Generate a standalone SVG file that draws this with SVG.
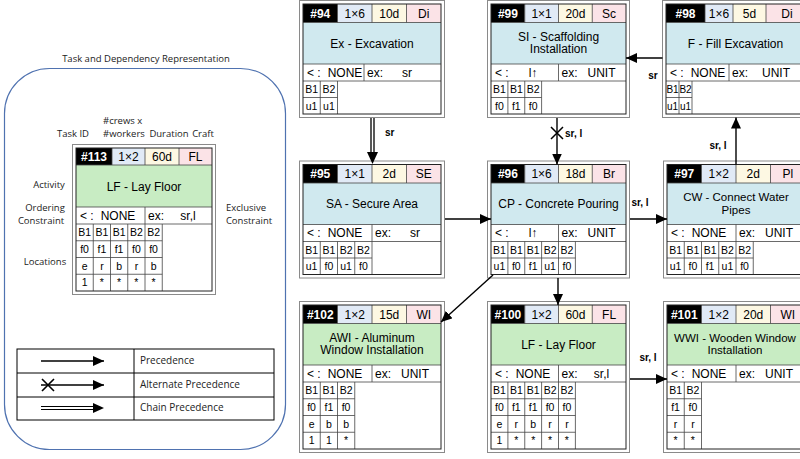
<svg xmlns="http://www.w3.org/2000/svg" width="800" height="459" viewBox="0 0 800 459">
<defs>
<style>
.ob{fill:none;stroke:#8a8a8a;stroke-width:1}
.bg{fill:#fff}
.bx{fill:none;stroke:#222;stroke-width:1}
.ln{fill:none;stroke:#444;stroke-width:0.8}
.k{fill:#000}
.cr{fill:#e1eaf6}
.du{fill:#fdf8e3}
.ca{fill:#fbe3e7}
.cy{fill:#d0e9ef}
.gr{fill:#c8ecc3}
text{font-family:"Liberation Sans",Arial,Helvetica,sans-serif;fill:#000}
.h{font-size:12px;text-anchor:middle}
.hi{font-size:12px;font-weight:bold;fill:#fff;text-anchor:middle}
.m{font-size:12px;text-anchor:middle}
.ms{font-size:11.5px;text-anchor:middle}
.c{font-size:12px}
.cm{font-size:12px;text-anchor:middle}
.l{font-size:10.5px;text-anchor:middle}
.lb{font-family:"Open Sans","Noto Sans",sans-serif;font-size:9.5px;fill:#222}
.lbm{text-anchor:middle}
.cl{font-size:10px;font-weight:bold}
.ar{stroke:#000;stroke-width:1.4;fill:none}
</style>
<marker id="ah" markerUnits="userSpaceOnUse" markerWidth="11" markerHeight="10" refX="11" refY="5" orient="auto" viewBox="0 0 11 10"><path d="M0,0L11,5L0,10z" fill="#000"/></marker>
</defs>
<rect width="800" height="459" fill="#fff"/>

<g id="legend">
<text class="lb lbm" x="146" y="62">Task and Dependency Representation</text>
<rect x="4.5" y="68.5" width="281" height="381" rx="45" ry="45" fill="none" stroke="#4f72b0" stroke-width="1.2"/>
<text class="lb lbm" x="73" y="137">Task ID</text>
<text class="lb" x="103" y="124">#crews x</text>
<text class="lb" x="103" y="137">#workers</text>
<text class="lb lbm" x="169" y="137">Duration</text>
<text class="lb lbm" x="203" y="137">Craft</text>
<text class="lb lbm" x="49" y="188">Activity</text>
<text class="lb lbm" x="45" y="211">Ordering</text>
<text class="lb lbm" x="41" y="224">Constraint</text>
<text class="lb lbm" x="246" y="211">Exclusive</text>
<text class="lb lbm" x="249" y="224">Constraint</text>
<text class="lb lbm" x="45" y="265">Locations</text>
<g id="legend-table">
<rect x="17" y="349" width="257" height="71" fill="none" stroke="#000" stroke-width="1"/>
<path d="M17 373H274M17 397H274M134 349V420" fill="none" stroke="#000" stroke-width="1"/>
<text class="lb" x="140" y="364" style="font-size:10px">Precedence</text>
<text class="lb" x="140" y="387.5" style="font-size:10px">Alternate Precedence</text>
<text class="lb" x="140" y="411" style="font-size:10px">Chain Precedence</text>
<line class="ar" x1="41" y1="361" x2="104" y2="361" marker-end="url(#ah)"/>
<line class="ar" x1="41" y1="385" x2="104" y2="385" marker-end="url(#ah)"/>
<path d="M42 379L54 391M42 391L54 379" stroke="#000" stroke-width="1.6" fill="none"/>
<path d="M41 406.5H94M41 409.5H94" stroke="#000" stroke-width="1.2" fill="none"/>
<polygon points="93,403 104,408 93,413" fill="#000"/>
</g>
</g>

<g id="n113">
<rect class="ob" x="72.5" y="144.5" width="143" height="150"/>
<rect class="bg" x="76" y="148" width="136" height="143"/>
<rect class="k" x="76" y="148" width="36" height="17"/>
<rect class="cr" x="112" y="148" width="33" height="17"/>
<rect class="du" x="145" y="148" width="34" height="17"/>
<rect class="ca" x="179" y="148" width="33" height="17"/>
<rect class="gr" x="76" y="165" width="136" height="42"/>
<path class="ln" d="M76 165H212M76 207H212M76 224H212M112 148V165M145 148V165M179 148V165M145 207V224M76 240.75H162.25M76 257.5H162.25M76 274.25H162.25M93.25 224V291M110.5 224V291M127.75 224V291M145 224V291M162.25 224V291"/>
<rect class="bx" x="76" y="148" width="136" height="143"/>
<text class="hi" x="94" y="161">#113</text>
<text class="h" y="161"><tspan x="128.5">1×2</tspan><tspan x="162">60d</tspan><tspan x="195.5">FL</tspan></text>
<text class="m" x="144" y="190.5">LF - Lay Floor</text>
<text class="c" x="80" y="219.5">&lt; :</text>
<text class="cm" x="118" y="219.5">NONE</text>
<text class="c" x="148" y="219.5">ex:</text>
<text class="cm" x="188" y="219.5">sr,l</text>
<text class="l" y="236"><tspan x="84.6">B1</tspan><tspan x="101.9">B1</tspan><tspan x="119.1">B1</tspan><tspan x="136.4">B2</tspan><tspan x="153.6">B2</tspan></text>
<text class="l" y="252.75"><tspan x="84.6">f0</tspan><tspan x="101.9">f1</tspan><tspan x="119.1">f1</tspan><tspan x="136.4">f0</tspan><tspan x="153.6">f0</tspan></text>
<text class="l" y="269.5"><tspan x="84.6">e</tspan><tspan x="101.9">r</tspan><tspan x="119.1">b</tspan><tspan x="136.4">r</tspan><tspan x="153.6">b</tspan></text>
<text class="l" y="286.25"><tspan x="84.6">1</tspan><tspan x="101.9">*</tspan><tspan x="119.1">*</tspan><tspan x="136.4">*</tspan><tspan x="153.6">*</tspan></text>
</g>

<g id="n94">
<rect class="ob" x="299.5" y="0.5" width="145" height="117"/>
<rect class="bg" x="303" y="4" width="138" height="110"/>
<rect class="k" x="303" y="4" width="34.5" height="18.5"/>
<rect class="cr" x="337.5" y="4" width="34.5" height="18.5"/>
<rect class="du" x="372" y="4" width="34.5" height="18.5"/>
<rect class="ca" x="406.5" y="4" width="34.5" height="18.5"/>
<rect class="cy" x="303" y="22.5" width="138" height="41.5"/>
<path class="ln" d="M303 22.5H441M303 64H441M303 81H441M337.5 4V22.5M372 4V22.5M406.5 4V22.5M364 64V81M303 97.5H337.5M320.25 81V114M337.5 81V114"/>
<rect class="bx" x="303" y="4" width="138" height="110"/>
<text class="hi" x="320.25" y="17.5">#94</text>
<text class="h" y="17.5"><tspan x="354.75">1×6</tspan><tspan x="389.25">10d</tspan><tspan x="423.75">Di</tspan></text>
<text class="m" x="372" y="47.7">Ex - Excavation</text>
<text class="c" x="307" y="76.5">&lt; :</text>
<text class="cm" x="345" y="76.5">NONE</text>
<text class="c" x="367" y="76.5">ex:</text>
<text class="cm" x="407" y="76.5">sr</text>
<text class="l" y="93"><tspan x="311.6">B1</tspan><tspan x="328.9">B2</tspan></text>
<text class="l" y="109.5"><tspan x="311.6">u1</tspan><tspan x="328.9">u1</tspan></text>
</g>

<g id="n99">
<rect class="ob" x="487.5" y="0.5" width="142" height="117"/>
<rect class="bg" x="491" y="4" width="135" height="110"/>
<rect class="k" x="491" y="4" width="33.75" height="18.5"/>
<rect class="cr" x="524.75" y="4" width="33.75" height="18.5"/>
<rect class="du" x="558.5" y="4" width="33.75" height="18.5"/>
<rect class="ca" x="592.25" y="4" width="33.75" height="18.5"/>
<rect class="cy" x="491" y="22.5" width="135" height="41.5"/>
<path class="ln" d="M491 22.5H626M491 64H626M491 81H626M524.75 4V22.5M558.5 4V22.5M592.25 4V22.5M558.5 64V81M491 97.5H541.6M507.9 81V114M524.75 81V114M541.6 81V114"/>
<rect class="bx" x="491" y="4" width="135" height="110"/>
<text class="hi" x="507.9" y="17.5">#99</text>
<text class="h" y="17.5"><tspan x="541.6">1×1</tspan><tspan x="575.4">20d</tspan><tspan x="609.1">Sc</tspan></text>
<text class="m" x="558.5" y="40.75">SI - Scaffolding</text>
<text class="m" x="558.5" y="53.25">Installation</text>
<text class="c" x="495" y="76.5">&lt; :</text>
<text class="cm" x="533" y="76.5">l↑</text>
<text class="c" x="561.5" y="76.5">ex:</text>
<text class="cm" x="601.5" y="76.5">UNIT</text>
<text class="l" y="93"><tspan x="499.4">B1</tspan><tspan x="516.3">B1</tspan><tspan x="533.2">B2</tspan></text>
<text class="l" y="109.5"><tspan x="499.4">f0</tspan><tspan x="516.3">f1</tspan><tspan x="533.2">f0</tspan></text>
</g>

<g id="n98">
<rect class="ob" x="662.5" y="0.5" width="150" height="117"/>
<rect class="bg" x="666" y="4" width="139" height="110"/>
<rect class="k" x="666" y="4" width="39" height="18.5"/>
<rect class="cr" x="705" y="4" width="28" height="18.5"/>
<rect class="du" x="733" y="4" width="33" height="18.5"/>
<rect class="ca" x="766" y="4" width="39" height="18.5"/>
<rect class="cy" x="666" y="22.5" width="139" height="41.5"/>
<path class="ln" d="M666 22.5H805M666 64H805M666 81H805M705 4V22.5M733 4V22.5M766 4V22.5M729 64V81M666 97.5H692M679 81V114M692 81V114"/>
<rect class="bx" x="666" y="4" width="139" height="110"/>
<text class="hi" x="685.5" y="17.5">#98</text>
<text class="h" y="17.5"><tspan x="719">1×6</tspan><tspan x="749.5">5d</tspan><tspan x="787">Di</tspan></text>
<text class="m" x="735.5" y="47.7">F - Fill Excavation</text>
<text class="c" x="670" y="76.5">&lt; :</text>
<text class="cm" x="708" y="76.5">NONE</text>
<text class="c" x="732" y="76.5">ex:</text>
<text class="cm" x="776" y="76.5">UNIT</text>
<text class="l" y="93" style="font-size:10px"><tspan x="672.5">B1</tspan><tspan x="685.5">B2</tspan></text>
<text class="l" y="109.5" style="font-size:10px"><tspan x="672.5">u1</tspan><tspan x="685.5">u1</tspan></text>
</g>

<g id="n95">
<rect class="ob" x="299.5" y="161" width="145" height="117"/>
<rect class="bg" x="303" y="164.5" width="138" height="110"/>
<rect class="k" x="303" y="164.5" width="34.5" height="18.5"/>
<rect class="cr" x="337.5" y="164.5" width="34.5" height="18.5"/>
<rect class="du" x="372" y="164.5" width="34.5" height="18.5"/>
<rect class="ca" x="406.5" y="164.5" width="34.5" height="18.5"/>
<rect class="cy" x="303" y="183" width="138" height="41.5"/>
<path class="ln" d="M303 183H441M303 224.5H441M303 241.5H441M337.5 164.5V183M372 164.5V183M406.5 164.5V183M372 224.5V274.5M303 258H372M320.25 241.5V274.5M337.5 241.5V274.5M354.75 241.5V274.5"/>
<rect class="bx" x="303" y="164.5" width="138" height="110"/>
<text class="hi" x="320.25" y="178">#95</text>
<text class="h" y="178"><tspan x="354.75">1×1</tspan><tspan x="389.25">2d</tspan><tspan x="423.75">SE</tspan></text>
<text class="m" x="372" y="208.25">SA - Secure Area</text>
<text class="c" x="307" y="237">&lt; :</text>
<text class="cm" x="345" y="237">NONE</text>
<text class="c" x="375" y="237">ex:</text>
<text class="cm" x="415" y="237">sr</text>
<text class="l" y="253.5"><tspan x="311.6">B1</tspan><tspan x="328.9">B1</tspan><tspan x="346.1">B2</tspan><tspan x="363.4">B2</tspan></text>
<text class="l" y="270"><tspan x="311.6">u1</tspan><tspan x="328.9">f0</tspan><tspan x="346.1">u1</tspan><tspan x="363.4">f0</tspan></text>
</g>

<g id="n96">
<rect class="ob" x="487.5" y="161" width="142" height="117"/>
<rect class="bg" x="491" y="164.5" width="135" height="110"/>
<rect class="k" x="491" y="164.5" width="33.75" height="18.5"/>
<rect class="cr" x="524.75" y="164.5" width="33.75" height="18.5"/>
<rect class="du" x="558.5" y="164.5" width="33.75" height="18.5"/>
<rect class="ca" x="592.25" y="164.5" width="33.75" height="18.5"/>
<rect class="cy" x="491" y="183" width="135" height="41.5"/>
<path class="ln" d="M491 183H626M491 224.5H626M491 241.5H626M524.75 164.5V183M558.5 164.5V183M592.25 164.5V183M558.5 224.5V274.5M491 258H575.4M507.9 241.5V274.5M524.75 241.5V274.5M541.6 241.5V274.5M575.4 241.5V274.5"/>
<rect class="bx" x="491" y="164.5" width="135" height="110"/>
<text class="hi" x="507.9" y="178">#96</text>
<text class="h" y="178"><tspan x="541.6">1×6</tspan><tspan x="575.4">18d</tspan><tspan x="609.1">Br</tspan></text>
<text class="m" x="558.5" y="208.25">CP - Concrete Pouring</text>
<text class="c" x="495" y="237">&lt; :</text>
<text class="cm" x="533" y="237">l↑</text>
<text class="c" x="561.5" y="237">ex:</text>
<text class="cm" x="601.5" y="237">UNIT</text>
<text class="l" y="253.5"><tspan x="499.4">B1</tspan><tspan x="516.3">B1</tspan><tspan x="533.2">B1</tspan><tspan x="550.1">B2</tspan><tspan x="566.9">B2</tspan></text>
<text class="l" y="270"><tspan x="499.4">u1</tspan><tspan x="516.3">f0</tspan><tspan x="533.2">f1</tspan><tspan x="550.1">u1</tspan><tspan x="566.9">f0</tspan></text>
</g>

<g id="n97">
<rect class="ob" x="663.5" y="161" width="150" height="117"/>
<rect class="bg" x="667" y="164.5" width="138" height="110"/>
<rect class="k" x="667" y="164.5" width="34.5" height="18.5"/>
<rect class="cr" x="701.5" y="164.5" width="34.5" height="18.5"/>
<rect class="du" x="736" y="164.5" width="34.5" height="18.5"/>
<rect class="ca" x="770.5" y="164.5" width="34.5" height="18.5"/>
<rect class="cy" x="667" y="183" width="138" height="41.5"/>
<path class="ln" d="M667 183H805M667 224.5H805M667 241.5H805M701.5 164.5V183M736 164.5V183M770.5 164.5V183M736 224.5V274.5M667 258H753.25M684.25 241.5V274.5M701.5 241.5V274.5M718.75 241.5V274.5M753.25 241.5V274.5"/>
<rect class="bx" x="667" y="164.5" width="138" height="110"/>
<text class="hi" x="684.25" y="178">#97</text>
<text class="h" y="178"><tspan x="718.75">1×2</tspan><tspan x="753.25">2d</tspan><tspan x="787.75">Pl</tspan></text>
<text class="ms" x="736" y="201.25">CW - Connect Water</text>
<text class="ms" x="736" y="213.75">Pipes</text>
<text class="c" x="671" y="237">&lt; :</text>
<text class="cm" x="709" y="237">NONE</text>
<text class="c" x="739" y="237">ex:</text>
<text class="cm" x="779" y="237">UNIT</text>
<text class="l" y="253.5"><tspan x="675.6">B1</tspan><tspan x="692.9">B1</tspan><tspan x="710.1">B1</tspan><tspan x="727.4">B2</tspan><tspan x="744.6">B2</tspan></text>
<text class="l" y="270"><tspan x="675.6">u1</tspan><tspan x="692.9">f0</tspan><tspan x="710.1">f1</tspan><tspan x="727.4">u1</tspan><tspan x="744.6">f0</tspan></text>
</g>

<g id="n102">
<rect class="ob" x="299.5" y="301.5" width="145" height="151"/>
<rect class="bg" x="303" y="305" width="138" height="144"/>
<rect class="k" x="303" y="305" width="34.5" height="18.5"/>
<rect class="cr" x="337.5" y="305" width="34.5" height="18.5"/>
<rect class="du" x="372" y="305" width="34.5" height="18.5"/>
<rect class="ca" x="406.5" y="305" width="34.5" height="18.5"/>
<rect class="gr" x="303" y="323.5" width="138" height="41.5"/>
<path class="ln" d="M303 323.5H441M303 365H441M303 382H441M337.5 305V323.5M372 305V323.5M406.5 305V323.5M372 365V382M303 398.75H354.75M303 415.5H354.75M303 432.25H354.75M320.25 382V449M337.5 382V449M354.75 382V449"/>
<rect class="bx" x="303" y="305" width="138" height="144"/>
<text class="hi" x="320.25" y="318.5">#102</text>
<text class="h" y="318.5"><tspan x="354.75">1×2</tspan><tspan x="389.25">15d</tspan><tspan x="423.75">WI</tspan></text>
<text class="m" x="372" y="341.75">AWI - Aluminum</text>
<text class="m" x="372" y="354.25">Window Installation</text>
<text class="c" x="307" y="377.5">&lt; :</text>
<text class="cm" x="345" y="377.5">NONE</text>
<text class="c" x="375" y="377.5">ex:</text>
<text class="cm" x="415" y="377.5">UNIT</text>
<text class="l" y="394"><tspan x="311.6">B1</tspan><tspan x="328.9">B1</tspan><tspan x="346.1">B2</tspan></text>
<text class="l" y="410.75"><tspan x="311.6">f0</tspan><tspan x="328.9">f1</tspan><tspan x="346.1">f0</tspan></text>
<text class="l" y="427.5"><tspan x="311.6">e</tspan><tspan x="328.9">b</tspan><tspan x="346.1">b</tspan></text>
<text class="l" y="444.25"><tspan x="311.6">1</tspan><tspan x="328.9">1</tspan><tspan x="346.1">*</tspan></text>
</g>

<g id="n100">
<rect class="ob" x="487.5" y="301.5" width="142" height="151"/>
<rect class="bg" x="491" y="305" width="135" height="144"/>
<rect class="k" x="491" y="305" width="33.75" height="18.5"/>
<rect class="cr" x="524.75" y="305" width="33.75" height="18.5"/>
<rect class="du" x="558.5" y="305" width="33.75" height="18.5"/>
<rect class="ca" x="592.25" y="305" width="33.75" height="18.5"/>
<rect class="gr" x="491" y="323.5" width="135" height="41.5"/>
<path class="ln" d="M491 323.5H626M491 365H626M491 382H626M524.75 305V323.5M558.5 305V323.5M592.25 305V323.5M558.5 365V449M491 398.75H575.4M491 415.5H575.4M491 432.25H575.4M507.9 382V449M524.75 382V449M541.6 382V449M575.4 382V449"/>
<rect class="bx" x="491" y="305" width="135" height="144"/>
<text class="hi" x="507.9" y="318.5">#100</text>
<text class="h" y="318.5"><tspan x="541.6">1×2</tspan><tspan x="575.4">60d</tspan><tspan x="609.1">FL</tspan></text>
<text class="m" x="558.5" y="348.75">LF - Lay Floor</text>
<text class="c" x="495" y="377.5">&lt; :</text>
<text class="cm" x="533" y="377.5">NONE</text>
<text class="c" x="561.5" y="377.5">ex:</text>
<text class="cm" x="601.5" y="377.5">sr,l</text>
<text class="l" y="394"><tspan x="499.4">B1</tspan><tspan x="516.3">B1</tspan><tspan x="533.2">B1</tspan><tspan x="550.1">B2</tspan><tspan x="566.9">B2</tspan></text>
<text class="l" y="410.75"><tspan x="499.4">f0</tspan><tspan x="516.3">f1</tspan><tspan x="533.2">f1</tspan><tspan x="550.1">f0</tspan><tspan x="566.9">f0</tspan></text>
<text class="l" y="427.5"><tspan x="499.4">e</tspan><tspan x="516.3">r</tspan><tspan x="533.2">b</tspan><tspan x="550.1">r</tspan><tspan x="566.9">r</tspan></text>
<text class="l" y="444.25"><tspan x="499.4">1</tspan><tspan x="516.3">*</tspan><tspan x="533.2">*</tspan><tspan x="550.1">*</tspan><tspan x="566.9">*</tspan></text>
</g>

<g id="n101">
<rect class="ob" x="663.5" y="301.5" width="150" height="151"/>
<rect class="bg" x="667" y="305" width="138" height="144"/>
<rect class="k" x="667" y="305" width="34.5" height="18.5"/>
<rect class="cr" x="701.5" y="305" width="34.5" height="18.5"/>
<rect class="du" x="736" y="305" width="34.5" height="18.5"/>
<rect class="ca" x="770.5" y="305" width="34.5" height="18.5"/>
<rect class="gr" x="667" y="323.5" width="138" height="41.5"/>
<path class="ln" d="M667 323.5H805M667 365H805M667 382H805M701.5 305V323.5M736 305V323.5M770.5 305V323.5M736 365V382M667 398.75H701.5M667 415.5H701.5M667 432.25H701.5M684.25 382V449M701.5 382V449"/>
<rect class="bx" x="667" y="305" width="138" height="144"/>
<text class="hi" x="684.25" y="318.5">#101</text>
<text class="h" y="318.5"><tspan x="718.75">1×2</tspan><tspan x="753.25">20d</tspan><tspan x="787.75">WI</tspan></text>
<text class="ms" x="735" y="341.75">WWI - Wooden Window</text>
<text class="ms" x="735" y="354.25">Installation</text>
<text class="c" x="671" y="377.5">&lt; :</text>
<text class="cm" x="709" y="377.5">NONE</text>
<text class="c" x="739" y="377.5">ex:</text>
<text class="cm" x="779" y="377.5">UNIT</text>
<text class="l" y="394"><tspan x="675.6">B1</tspan><tspan x="692.9">B2</tspan></text>
<text class="l" y="410.75"><tspan x="675.6">f1</tspan><tspan x="692.9">f0</tspan></text>
<text class="l" y="427.5"><tspan x="675.6">r</tspan><tspan x="692.9">r</tspan></text>
<text class="l" y="444.25"><tspan x="675.6">*</tspan><tspan x="692.9">*</tspan></text>
</g>

<g id="connectors">
<path d="M371 118V152M374 118V152" stroke="#000" stroke-width="1.3" fill="none"/>
<polygon points="367,152 378,152 372.5,164" fill="#000"/>
<text class="cl" x="385" y="136">sr</text>
<line class="ar" x1="445" y1="219" x2="491" y2="219" marker-end="url(#ah)"/>
<line class="ar" x1="557" y1="118" x2="557" y2="164.5" marker-end="url(#ah)"/>
<path d="M551 127L563 139M551 139L563 127" stroke="#000" stroke-width="1.5" fill="none"/>
<text class="cl" x="565" y="137">sr, l</text>
<line class="ar" x1="630" y1="219" x2="667" y2="219" marker-end="url(#ah)"/>
<text class="cl" x="640" y="206" text-anchor="middle">sr, l</text>
<line class="ar" x1="736" y1="164.5" x2="736" y2="117.5" marker-end="url(#ah)"/>
<text class="cl" x="718" y="149" text-anchor="middle">sr, l</text>
<line class="ar" x1="662.5" y1="58" x2="626" y2="58" marker-end="url(#ah)"/>
<text class="cl" x="653" y="79" text-anchor="middle">sr</text>
<line class="ar" x1="493" y1="275" x2="441" y2="322" marker-end="url(#ah)"/>
<line class="ar" x1="558" y1="278" x2="558" y2="305" marker-end="url(#ah)"/>
<line class="ar" x1="630" y1="379" x2="667" y2="379" marker-end="url(#ah)"/>
<text class="cl" x="648" y="361" text-anchor="middle">sr, l</text>
</g>
</svg>
